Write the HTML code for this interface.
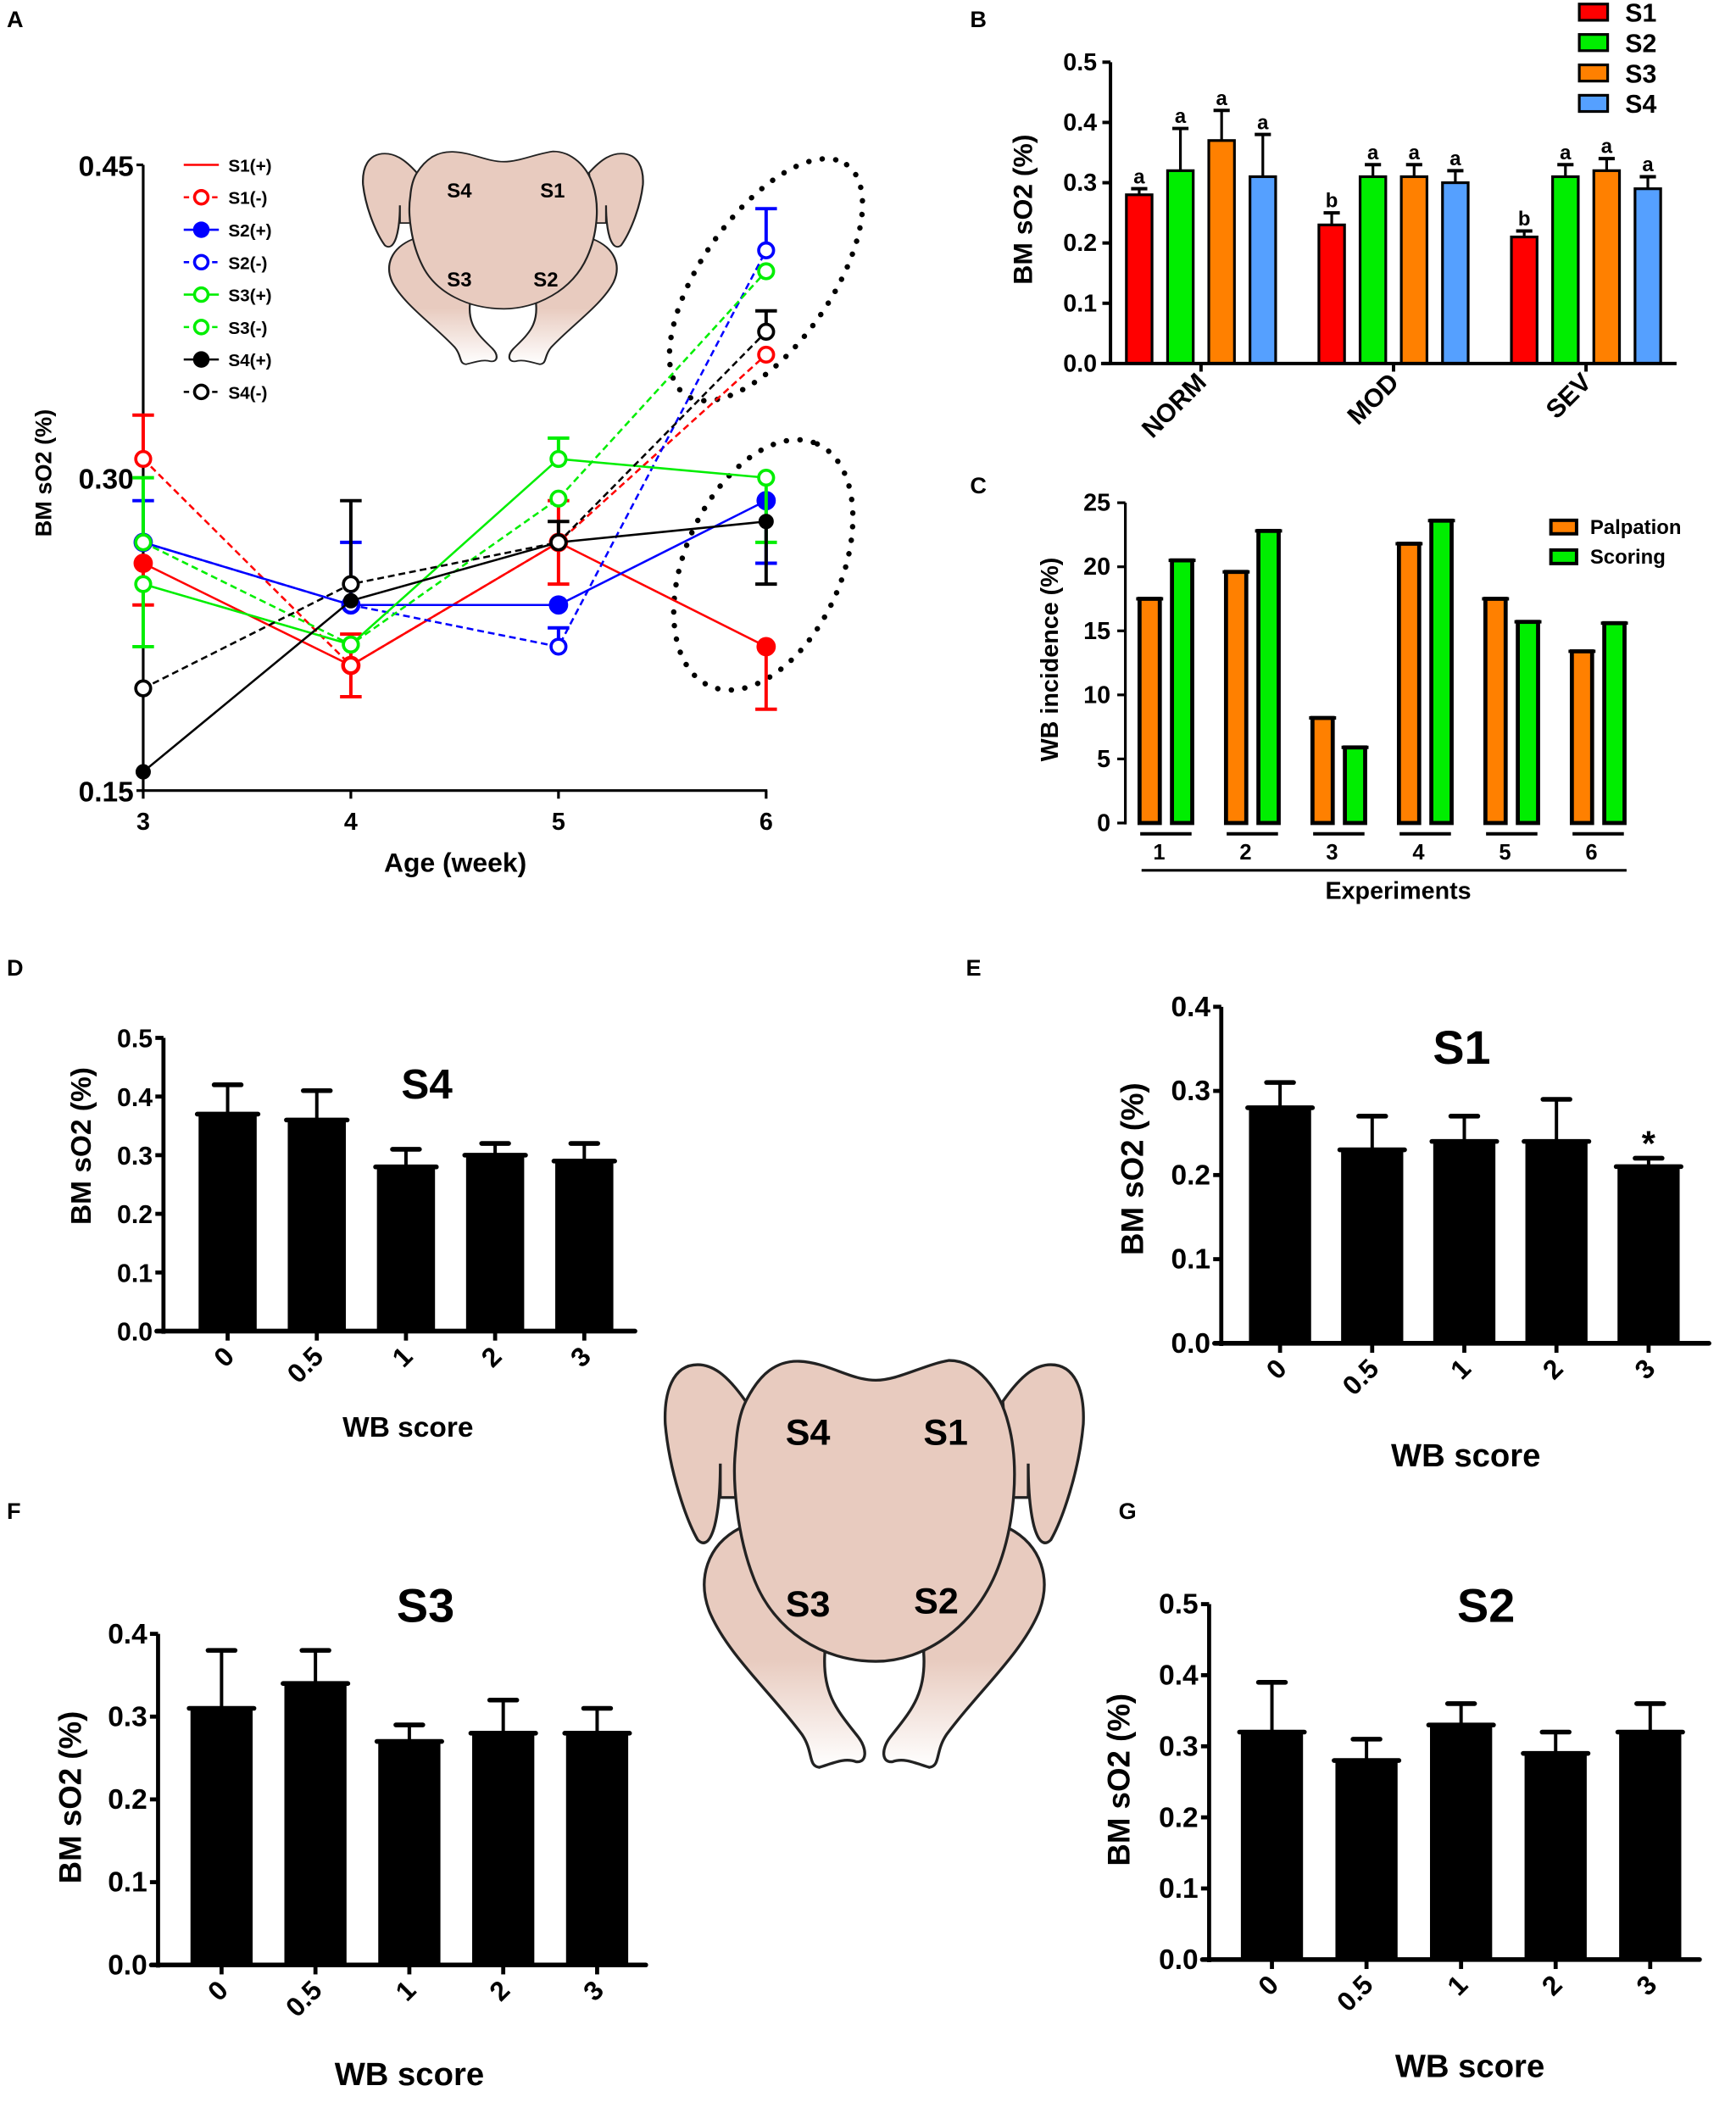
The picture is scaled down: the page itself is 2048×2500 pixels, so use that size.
<!DOCTYPE html>
<html><head><meta charset="utf-8">
<style>
html,body{margin:0;padding:0;background:#fff;}
svg{display:block;font-family:"Liberation Sans",Arial,sans-serif;font-weight:bold;}
</style></head>
<body>
<svg id="fig" xmlns="http://www.w3.org/2000/svg" width="2048" height="2500" viewBox="0 0 1285 1568" preserveAspectRatio="none">
<defs>
<linearGradient id="legGrad" x1="0" y1="0" x2="0" y2="1" gradientUnits="objectBoundingBox">
<stop offset="0" stop-color="#e8cbbf"/><stop offset="0.55" stop-color="#e8cbbf"/><stop offset="1" stop-color="#ffffff"/>
</linearGradient>
<g id="chicken">
<path d="M310,668 C190,730 160,850 200,960 C260,1110 420,1250 530,1400 C570,1460 550,1510 590,1515 C640,1500 680,1480 720,1495 C760,1500 760,1450 730,1410 C660,1320 600,1260 610,1110 L600,1000 Z" fill="url(#legGrad)" stroke="#222" stroke-width="10"/>
<path d="M1260,668 C1380,730 1410,850 1370,960 C1310,1110 1150,1250 1040,1400 C1000,1460 1020,1510 980,1515 C930,1500 890,1480 850,1495 C810,1500 810,1450 840,1410 C910,1320 970,1260 960,1110 L970,1000 Z" fill="url(#legGrad)" stroke="#222" stroke-width="10"/>
<path d="M330,220 C260,120 210,90 160,90 C70,90 40,190 45,300 C60,470 120,640 160,710 C185,735 205,715 220,660 C240,580 240,480 240,440 L240,560 L300,560 Z" fill="#e8cbbf" stroke="#222" stroke-width="10"/>
<path d="M1240,220 C1310,120 1360,90 1410,90 C1500,90 1530,190 1525,300 C1510,470 1450,640 1410,710 C1385,735 1365,715 1350,660 C1330,580 1330,480 1330,440 L1330,560 L1270,560 Z" fill="#e8cbbf" stroke="#222" stroke-width="10"/>
<path d="M330,220 C380,120 440,75 520,78 C620,82 700,145 790,145 C870,145 960,90 1050,75 C1150,75 1230,180 1260,300 C1300,450 1280,650 1230,790 C1150,1020 960,1140 790,1140 C600,1140 430,1030 360,850 C300,700 280,500 295,380 C300,300 315,250 330,220 Z" fill="#e8cbbf" stroke="#222" stroke-width="10"/>
</g>
</defs>
<g id="root"></g>
</svg>
<script>
// ---------- Panel A data ----------
const weeks = [3, 4, 5, 6];
const aTicksY = [0.15, 0.30, 0.45];
const aTickLabelsY = ["0.15", "0.30", "0.45"];
const s1Plus = [0.259, 0.21, 0.269, 0.219];
const s1Minus = [0.309, 0.21, 0.269, 0.359];
const s2Plus = [0.269, 0.239, 0.239, 0.289];
const s2Minus = [0.269, 0.239, 0.219, 0.409];
const s3Plus = [0.249, 0.22, 0.309, 0.30];
const s3Minus = [0.269, 0.22, 0.29, 0.399];
const s4Plus = [0.159, 0.241, 0.269, 0.279];
const s4Minus = [0.199, 0.249, 0.269, 0.37];
const s1PlusHi = [0, 0.015, 0.02, 0], s1PlusLo = [0.02, 0.015, 0.02, 0.03];
const s1MinusHi = [0.021, 0, 0, 0], s1MinusLo = [0, 0, 0, 0];
const s2PlusHi = [0.02, 0.03, 0, 0], s2PlusLo = [0, 0, 0, 0.03];
const s2MinusHi = [0, 0, 0.009, 0.02], s2MinusLo = [0, 0, 0, 0];
const s3PlusHi = [0, 0, 0.01, 0], s3PlusLo = [0.03, 0, 0, 0.031];
const s3MinusHi = [0.031, 0, 0, 0], s3MinusLo = [0, 0, 0, 0];
const s4PlusHi = [0, 0, 0, 0], s4PlusLo = [0, 0, 0, 0.03];
const s4MinusHi = [0, 0.04, 0.01, 0.01], s4MinusLo = [0, 0, 0, 0];
const seriesNames = ["S1(+)", "S1(-)", "S2(+)", "S2(-)", "S3(+)", "S3(-)", "S4(+)", "S4(-)"];

// ---------- Panel B data ----------
const bGroups = ["NORM", "MOD", "SEV"];
const bSites = ["S1", "S2", "S3", "S4"];
const bS1 = [0.28, 0.23, 0.21];
const bS2 = [0.32, 0.31, 0.31];
const bS3 = [0.37, 0.31, 0.32];
const bS4 = [0.31, 0.30, 0.29];
const bS1Err = [0.01, 0.02, 0.01];
const bS2Err = [0.07, 0.02, 0.02];
const bS3Err = [0.05, 0.02, 0.02];
const bS4Err = [0.07, 0.02, 0.02];
const bLetters = [["a","a","a","a"],["b","a","a","a"],["b","a","a","a"]];
const bTicks = [0, 0.1, 0.2, 0.3, 0.4, 0.5];
const bTickLabels = ["0.0","0.1","0.2","0.3","0.4","0.5"];

// ---------- Panel C data ----------
const cExperiments = ["1","2","3","4","5","6"];
const cPalpation = [17.5, 19.6, 8.2, 21.8, 17.5, 13.4];
const cScoring = [20.5, 22.8, 5.9, 23.6, 15.7, 15.6];
const cTicks = [0, 5, 10, 15, 20, 25];
const cTickLabels = ["0","5","10","15","20","25"];

// ---------- Panels D-G data ----------
const wbScores = ["0", "0.5", "1", "2", "3"];
const dS4 = [0.37, 0.36, 0.28, 0.30, 0.29];
const dS4Err = [0.05, 0.05, 0.03, 0.02, 0.03];
const eS1 = [0.28, 0.23, 0.24, 0.24, 0.21];
const eS1Err = [0.03, 0.04, 0.03, 0.05, 0.01];
const fS3 = [0.31, 0.34, 0.27, 0.28, 0.28];
const fS3Err = [0.07, 0.04, 0.02, 0.04, 0.03];
const gS2 = [0.32, 0.28, 0.33, 0.29, 0.32];
const gS2Err = [0.07, 0.03, 0.03, 0.03, 0.04];
const ticks05 = [0, 0.1, 0.2, 0.3, 0.4, 0.5];
const ticks05Labels = ["0.0","0.1","0.2","0.3","0.4","0.5"];
const ticks04 = [0, 0.1, 0.2, 0.3, 0.4];
const ticks04Labels = ["0.0","0.1","0.2","0.3","0.4"];

const NS = "http://www.w3.org/2000/svg";
const root = document.getElementById("root");
function mk(tag, attrs, parent, text) {
  const e = document.createElementNS(NS, tag);
  for (const k in attrs) e.setAttribute(k, attrs[k]);
  if (text !== undefined) e.textContent = text;
  (parent || root).appendChild(e);
  return e;
}
function grp(name, parent) {
  const g = mk("g", {}, parent);
  
  
  return g;
}
function txt(parent, x, y, s, size, name, extra) {
  const a = Object.assign({x: x, y: y, "font-size": size, fill: "#000"}, extra || {});
  const t = mk("text", a, parent, s);
  
  
  return t;
}

// ---------- Panel labels ----------
const panelLetters = [["A",5,20],["B",718,20],["C",718,365],["D",5,722],["E",715,722],["F",5,1124],["G",828,1124]];
panelLetters.forEach(p => { txt(root, p[1], p[2], p[0], 17, "panel-label-" + p[0].toLowerCase()); });

// ---------- Panel A ----------
(function(){
  const g = grp("panel-a");
  const xA = w => 106 + (w - 3) * 153.7;
  const yA = v => 585 - (v - 0.15) / 0.30 * 463;
  const ch = mk("use", {href: "#chicken", transform: "translate(262.4,103.8) scale(0.140,0.1094)"}, g);
  
  
  [["S4",340,146],["S1",409,146],["S3",340,212],["S2",404,212]].forEach(l => {
    txt(g, l[1], l[2], l[0], 15, "chicken-small-label-" + l[0].toLowerCase(), {"text-anchor": "middle"});
  });
  const e1 = mk("ellipse", {cx: 567, cy: 207, rx: 104, ry: 48, transform: "rotate(-55 567 207)", fill: "none", stroke: "#000", "stroke-width": 4, "stroke-dasharray": "0.1 10", "stroke-linecap": "round"}, g);
  
  
  const e2 = mk("ellipse", {cx: 565, cy: 418, rx: 98, ry: 58, transform: "rotate(-66 565 418)", fill: "none", stroke: "#000", "stroke-width": 4, "stroke-dasharray": "0.1 10", "stroke-linecap": "round"}, g);
  
  
  const ax = grp("panel-a-axes", g);
  mk("line", {x1: 106, y1: 122, x2: 106, y2: 586, stroke: "#000", "stroke-width": 2}, ax);
  mk("line", {x1: 105, y1: 585, x2: 568, y2: 585, stroke: "#000", "stroke-width": 2}, ax);
  aTicksY.forEach((v, i) => {
    mk("line", {x1: 101, y1: yA(v), x2: 106, y2: yA(v), stroke: "#000", "stroke-width": 2}, ax);
    txt(ax, 99, yA(v) + 8, aTickLabelsY[i], 21, "y-tick-label", {"text-anchor": "end"});
  });
  weeks.forEach(w => {
    mk("line", {x1: xA(w), y1: 585, x2: xA(w), y2: 591, stroke: "#000", "stroke-width": 2}, ax);
    txt(ax, xA(w), 614, String(w), 18, "x-tick-label", {"text-anchor": "middle"});
  });
  txt(ax, 337, 645, "Age (week)", 20, "x-axis-title", {"text-anchor": "middle"});
  txt(ax, 0, 0, "BM sO2 (%)", 17, "y-axis-title", {"text-anchor": "middle", transform: "translate(38,350) rotate(-90)"});
  const series = [
    [s1Plus, s1PlusHi, s1PlusLo, "#ff0000", false, true],
    [s1Minus, s1MinusHi, s1MinusLo, "#ff0000", true, false],
    [s2Plus, s2PlusHi, s2PlusLo, "#0000ff", false, true],
    [s2Minus, s2MinusHi, s2MinusLo, "#0000ff", true, false],
    [s3Plus, s3PlusHi, s3PlusLo, "#00ee00", false, false],
    [s3Minus, s3MinusHi, s3MinusLo, "#00ee00", true, false],
    [s4Plus, s4PlusHi, s4PlusLo, "#000000", false, true],
    [s4Minus, s4MinusHi, s4MinusLo, "#000000", true, false]
  ];
  const seriesIds = ["s1-plus","s1-minus","s2-plus","s2-minus","s3-plus","s3-minus","s4-plus","s4-minus"];
  series.forEach((s, si) => {
    const sg = grp("series-" + seriesIds[si], g);
    const vals = s[0], col = s[3];
    const pts = vals.map((v, i) => xA(weeks[i]) + "," + yA(v)).join(" ");
    const pl = mk("polyline", {points: pts, fill: "none", stroke: col, "stroke-width": 1.6, "stroke-dasharray": s[4] ? "5 3" : "none"}, sg);
    
    
    vals.forEach((v, i) => {
      const x = xA(weeks[i]);
      if (s[1][i] > 0) {
        mk("line", {x1: x, y1: yA(v), x2: x, y2: yA(v + s[1][i]), stroke: col, "stroke-width": 2.5}, sg);
        mk("line", {x1: x - 8, y1: yA(v + s[1][i]), x2: x + 8, y2: yA(v + s[1][i]), stroke: col, "stroke-width": 2.5}, sg);
      }
      if (s[2][i] > 0) {
        mk("line", {x1: x, y1: yA(v), x2: x, y2: yA(v - s[2][i]), stroke: col, "stroke-width": 2.5}, sg);
        mk("line", {x1: x - 8, y1: yA(v - s[2][i]), x2: x + 8, y2: yA(v - s[2][i]), stroke: col, "stroke-width": 2.5}, sg);
      }
      const filled = s[5];
      const c = mk("circle", {cx: x, cy: yA(v), r: filled ? (col === "#000000" ? 4.5 : 6) : 5.5, fill: filled ? col : "#fff", stroke: col, "stroke-width": 2.3}, sg);
      
      
    });
  });
  const lg = grp("panel-a-legend", g);
  const legCols = ["#ff0000","#ff0000","#0000ff","#0000ff","#00ee00","#00ee00","#000000","#000000"];
  const legMarker = ["none","open","filled","open","open","open","filled","open"];
  seriesNames.forEach((n, i) => {
    const y = 122 + i * 24;
    const e = grp("legend-entry-" + i, lg);
    mk("line", {x1: 136, y1: y, x2: 162, y2: y, stroke: legCols[i], "stroke-width": 1.6, "stroke-dasharray": i % 2 ? "4 3" : "none"}, e);
    if (legMarker[i] !== "none") mk("circle", {cx: 149, cy: y, r: 5, fill: legMarker[i] === "filled" ? legCols[i] : "#fff", stroke: legCols[i], "stroke-width": 2.2}, e);
    txt(e, 169, y + 5, n, 13, "legend-label");
  });
})();

// ---------- Panel B ----------
(function(){
  const g = grp("panel-b");
  const yB = v => 269 - v * 446;
  const gx = i => 889 + i * 142.5;
  const cols = ["#ff0000", "#00ee00", "#ff8000", "#55a0ff"];
  const vals = [bS1, bS2, bS3, bS4], errs = [bS1Err, bS2Err, bS3Err, bS4Err];
  bGroups.forEach((gn, i) => {
    const gg = grp("bar-group-" + gn.toLowerCase(), g);
    for (let j = 0; j < 4; j++) {
      const cx = gx(i) + (j - 1.5) * 30.5, v = vals[j][i], e = errs[j][i];
      mk("line", {x1: cx, y1: yB(v), x2: cx, y2: yB(v + e), stroke: "#000", "stroke-width": 2}, gg);
      mk("line", {x1: cx - 6, y1: yB(v + e), x2: cx + 6, y2: yB(v + e), stroke: "#000", "stroke-width": 2.5}, gg);
      const r = mk("rect", {x: cx - 9.5, y: yB(v), width: 19, height: yB(0) - yB(v), fill: cols[j], stroke: "#000", "stroke-width": 2}, gg);
      
      
      txt(gg, cx, yB(v + e) - 4, bLetters[i][j], 15, "significance-letter", {"text-anchor": "middle"});
    }
    mk("line", {x1: gx(i), y1: 269, x2: gx(i), y2: 275, stroke: "#000", "stroke-width": 2.5}, gg);
    txt(gg, 0, 0, gn, 19, "x-tick-label", {"text-anchor": "end", transform: "translate(" + (gx(i) + 5) + ",284) rotate(-45)"});
  });
  const ax = grp("panel-b-axes", g);
  mk("line", {x1: 822, y1: 46, x2: 822, y2: 270, stroke: "#000", "stroke-width": 2.5}, ax);
  mk("line", {x1: 815, y1: 269, x2: 1241, y2: 269, stroke: "#000", "stroke-width": 2.5}, ax);
  bTicks.forEach((v, i) => {
    mk("line", {x1: 816, y1: yB(v), x2: 822, y2: yB(v), stroke: "#000", "stroke-width": 2.5}, ax);
    txt(ax, 812, yB(v) + 6, bTickLabels[i], 18, "y-tick-label", {"text-anchor": "end"});
  });
  txt(ax, 0, 0, "BM sO2 (%)", 20, "y-axis-title", {"text-anchor": "middle", transform: "translate(764,155) rotate(-90)"});
  const lg = grp("panel-b-legend", g);
  bSites.forEach((s, j) => {
    const y = 9 + j * 22.5;
    const e = grp("legend-entry-" + s.toLowerCase(), lg);
    mk("rect", {x: 1169, y: y - 6, width: 21, height: 12, fill: cols[j], stroke: "#000", "stroke-width": 2}, e);
    txt(e, 1203, y + 7, s, 19, "legend-label");
  });
})();

// ---------- Panel C ----------
(function(){
  const g = grp("panel-c");
  const yC = v => 609 - v / 25 * 237;
  const gx = i => 863 + i * 64;
  cExperiments.forEach((ex, i) => {
    const gg = grp("bar-group-experiment-" + ex, g);
    [[cPalpation, "#ff8000", -12, "palpation"], [cScoring, "#00ee00", 12, "scoring"]].forEach(s => {
      const cx = gx(i) + s[2], v = s[0][i];
      const r = mk("rect", {x: cx - 7.5, y: yC(v), width: 15, height: yC(0) - yC(v), fill: s[1], stroke: "#000", "stroke-width": 3}, gg);
      
      
      mk("line", {x1: cx - 10, y1: yC(v), x2: cx + 10, y2: yC(v), stroke: "#000", "stroke-width": 2.5}, gg);
    });
    mk("line", {x1: gx(i) - 19, y1: 617, x2: gx(i) + 19, y2: 617, stroke: "#000", "stroke-width": 2.5}, gg);
    txt(gg, gx(i) - 5, 636, ex, 16, "x-tick-label", {"text-anchor": "middle"});
  });
  const ax = grp("panel-c-axes", g);
  mk("line", {x1: 833, y1: 372, x2: 833, y2: 610, stroke: "#000", "stroke-width": 2}, ax);
  cTicks.forEach((v, i) => {
    mk("line", {x1: 827, y1: yC(v), x2: 833, y2: yC(v), stroke: "#000", "stroke-width": 2}, ax);
    txt(ax, 822, yC(v) + 6, cTickLabels[i], 18, "y-tick-label", {"text-anchor": "end"});
  });
  mk("line", {x1: 845, y1: 644, x2: 1204, y2: 644, stroke: "#000", "stroke-width": 2}, ax);
  txt(ax, 1035, 665, "Experiments", 18, "x-axis-title", {"text-anchor": "middle"});
  txt(ax, 0, 0, "WB incidence (%)", 18, "y-axis-title", {"text-anchor": "middle", transform: "translate(783,488) rotate(-90)"});
  const lg = grp("panel-c-legend", g);
  [["Palpation","#ff8000",390],["Scoring","#00ee00",412]].forEach(l => {
    const e = grp("legend-entry-" + l[0].toLowerCase(), lg);
    mk("rect", {x: 1148, y: l[2] - 5, width: 19, height: 10, fill: l[1], stroke: "#000", "stroke-width": 2.5}, e);
    txt(e, 1177, l[2] + 5, l[0], 15, "legend-label");
  });
})();

// ---------- Panels D-G ----------
function wbPanel(cfg) {
  const g = grp(cfg.name);
  const y = v => cfg.y0 - v / cfg.vmax * (cfg.y0 - cfg.ytop);
  const x = i => cfg.x0 + i * cfg.step;
  cfg.vals.forEach((v, i) => {
    const cx = x(i), e = cfg.errs[i];
    mk("line", {x1: cx, y1: y(v), x2: cx, y2: y(v + e), stroke: "#000", "stroke-width": 2.5}, g);
    mk("line", {x1: cx - 10, y1: y(v + e), x2: cx + 10, y2: y(v + e), stroke: "#000", "stroke-width": 3.5, "stroke-linecap": "round"}, g);
    const r = mk("rect", {x: cx - cfg.bw / 2, y: y(v), width: cfg.bw, height: cfg.y0 - y(v), fill: "#000"}, g);
    
    
    mk("line", {x1: cx - cfg.bw / 2 - 1, y1: y(v), x2: cx + cfg.bw / 2 + 1, y2: y(v), stroke: "#000", "stroke-width": 3.5, "stroke-linecap": "round"}, g);
    mk("line", {x1: cx, y1: cfg.y0, x2: cx, y2: cfg.y0 + 7, stroke: "#000", "stroke-width": 3}, g);
    txt(g, 0, 0, wbScores[i], 20, "x-tick-label", {"text-anchor": "end", transform: "translate(" + (cx + 6) + "," + (cfg.y0 + 20) + ") rotate(-45)"});
    if (cfg.star && cfg.star[i]) txt(g, cx, y(v + e) - 2, "*", 26, "significance-star", {"text-anchor": "middle"});
  });
  mk("line", {x1: cfg.ax, y1: cfg.ytop, x2: cfg.ax, y2: cfg.y0 + 2, stroke: "#000", "stroke-width": 3}, g);
  mk("line", {x1: cfg.ax - 5, y1: cfg.y0, x2: cfg.xend, y2: cfg.y0, stroke: "#000", "stroke-width": 3.5, "stroke-linecap": "round"}, g);
  cfg.ticks.forEach((v, i) => {
    mk("line", {x1: cfg.ax - 6, y1: y(v), x2: cfg.ax, y2: y(v), stroke: "#000", "stroke-width": 3}, g);
    txt(g, cfg.ax - 8, y(v) + 7, cfg.tickLabels[i], cfg.tfs, "y-tick-label", {"text-anchor": "end"});
  });
  txt(g, cfg.title[0], cfg.title[1], cfg.title[2], cfg.title[3], "panel-title", {"text-anchor": "middle"});
  txt(g, cfg.xt[0], cfg.xt[1], "WB score", cfg.xt[2], "x-axis-title", {"text-anchor": "middle"});
  txt(g, 0, 0, "BM sO2 (%)", cfg.yt[2], "y-axis-title", {"text-anchor": "middle", transform: "translate(" + cfg.yt[0] + "," + cfg.yt[1] + ") rotate(-90)"});
}
wbPanel({name: "panel-d", vals: dS4, errs: dS4Err, ticks: ticks05, tickLabels: ticks05Labels, vmax: 0.5, y0: 985, ytop: 768, ax: 121, x0: 168.5, step: 66, bw: 43, xend: 470, tfs: 19, title: [316, 813, "S4", 31], xt: [302, 1063, 21], yt: [67, 848, 21]});
wbPanel({name: "panel-e", vals: eS1, errs: eS1Err, star: [0,0,0,0,1], ticks: ticks04, tickLabels: ticks04Labels, vmax: 0.4, y0: 994, ytop: 745, ax: 904, x0: 947.5, step: 68.2, bw: 46, xend: 1265, tfs: 21, title: [1082, 787, "S1", 35], xt: [1085, 1085, 24], yt: [846, 865, 23]});
wbPanel({name: "panel-f", vals: fS3, errs: fS3Err, ticks: ticks04, tickLabels: ticks04Labels, vmax: 0.4, y0: 1454, ytop: 1209, ax: 117, x0: 164, step: 69.5, bw: 46, xend: 478, tfs: 21, title: [315, 1200, "S3", 35], xt: [303, 1543, 24], yt: [60, 1330, 23]});
wbPanel({name: "panel-g", vals: gS2, errs: gS2Err, ticks: ticks05, tickLabels: ticks05Labels, vmax: 0.5, y0: 1450, ytop: 1187, ax: 895, x0: 941.5, step: 70, bw: 46, xend: 1258, tfs: 21, title: [1100, 1200, "S2", 35], xt: [1088, 1537, 24], yt: [836, 1317, 23]});

// ---------- Big chicken ----------
(function(){
  const g = grp("chicken-diagram-large");
  const u = mk("use", {href: "#chicken", transform: "translate(483,991) scale(0.2091)"}, g);
  
  
  [["S4",598,1069],["S1",700,1069],["S3",598,1196],["S2",693,1194]].forEach(l => {
    txt(g, l[1], l[2], l[0], 27, "chicken-label-" + l[0].toLowerCase(), {"text-anchor": "middle"});
  });
})();
</script>
</body></html>
